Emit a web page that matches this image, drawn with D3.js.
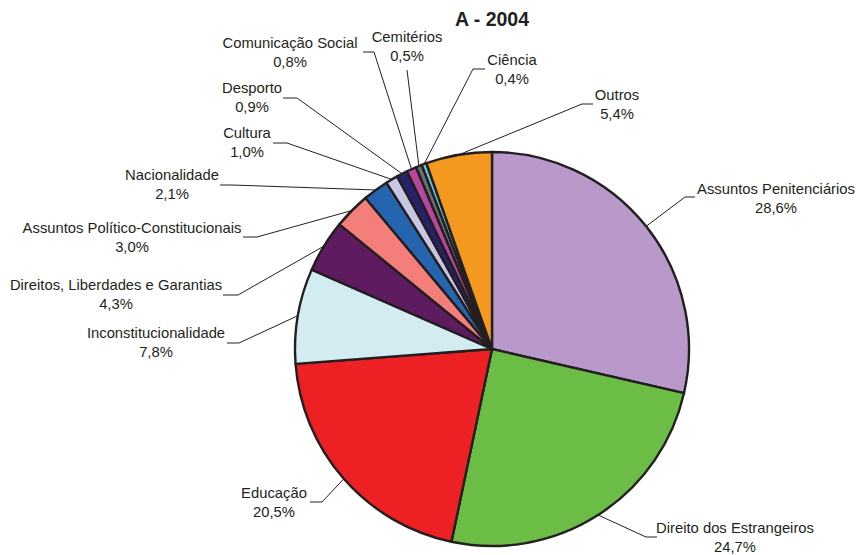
<!DOCTYPE html>
<html>
<head>
<meta charset="utf-8">
<script src="https://cdn.jsdelivr.net/npm/d3@7"></script>
<style>
  html, body { margin: 0; padding: 0; background: #fff; }
  svg { display: block; }
  text { font-family: "Liberation Sans", Arial, sans-serif; fill: #231f20; }
</style>
</head>
<body>
<svg id="chart" width="859" height="555"></svg>
<script>
// Share of subjects, 2004 (%), clockwise from 12 o'clock
const categories = [
  "Assuntos Penitenciários", "Direito dos Estrangeiros", "Educação",
  "Inconstitucionalidade", "Direitos, Liberdades e Garantias",
  "Assuntos Político-Constitucionais", "Nacionalidade", "Cultura",
  "Desporto", "Comunicação Social", "Cemitérios", "Ciência", "Outros"
];
const values = [28.6, 24.7, 20.5, 7.8, 4.3, 3.0, 2.1, 1.0, 0.9, 0.8, 0.5, 0.4, 5.4];
const valueLabels = ["28,6%", "24,7%", "20,5%", "7,8%", "4,3%", "3,0%", "2,1%",
                     "1,0%", "0,9%", "0,8%", "0,5%", "0,4%", "5,4%"];
const title = "A - 2004";

// Slice colours
const colors = ["#b899c9", "#6cbd45", "#ed2024", "#d3ecf1", "#5e1b5f", "#f47e7a",
                "#2565b0", "#c9c6e3", "#27216a", "#b6479c", "#6d6e71", "#5dc6d8", "#f4981f"];

// Label placement: text centre/baseline, then leader start and elbow
const labelLayout = [
  { text: [776, 194], lead: [[695, 197], [685, 197]] },
  { text: [735, 533], lead: [[657, 537], [646, 537]] },
  { text: [274, 498], lead: [[310, 502], [322, 502]] },
  { text: [156, 338], lead: [[227, 343], [239, 343]] },
  { text: [116, 290], lead: [[223, 295], [238, 295]] },
  { text: [132, 233], lead: [[243, 237], [257, 237]] },
  { text: [172, 180], lead: [[220, 185], [232, 185]] },
  { text: [247, 138], lead: [[273, 143], [287, 143]] },
  { text: [252, 93],  lead: [[283, 98],  [297, 98]] },
  { text: [290, 48],  lead: [[363, 52],  [374, 52]] },
  { text: [407, 42],  lead: [[407, 70],  [407, 70]] },
  { text: [512, 65],  lead: [[485, 69],  [473, 69]] },
  { text: [617, 100], lead: [[593, 104], [582, 104]] }
];

const svg = d3.select("#chart");
const cx = 492, cy = 349, r = 197;

svg.append("text")
  .attr("x", cx).attr("y", 26)
  .attr("text-anchor", "middle")
  .style("font-size", "19.5px").style("font-weight", "bold")
  .text(title);

const data = categories.map((c, i) => ({ name: c, value: values[i], label: valueLabels[i], color: colors[i] }));

const pie = d3.pie().value(d => d.value).sort(null);
const arcs = pie(data);
const arc = d3.arc().innerRadius(0).outerRadius(r);
const edge = d3.arc().innerRadius(r).outerRadius(r);

const g = svg.append("g").attr("transform", `translate(${cx},${cy})`);
g.selectAll("path.slice")
  .data(arcs)
  .join("path")
  .attr("class", "slice")
  .attr("d", arc)
  .attr("fill", d => d.data.color)
  .attr("stroke", "#231f20")
  .attr("stroke-width", 2.4)
  .attr("stroke-linejoin", "round");

// Leader lines from the arc midpoint to each label
const line = d3.line();
svg.selectAll("path.leader")
  .data(arcs)
  .join("path")
  .attr("class", "leader")
  .attr("fill", "none")
  .attr("stroke", "#231f20")
  .attr("stroke-width", 1)
  .attr("d", (d, i) => {
    const [mx, my] = edge.centroid(d);
    const L = labelLayout[i].lead;
    return line([L[0], L[1], [cx + mx, cy + my]]);
  });

// Two-line labels: category name and percentage
const labels = svg.selectAll("text.lbl")
  .data(arcs)
  .join("text")
  .attr("class", "lbl")
  .attr("text-anchor", "middle")
  .style("font-size", "14.8px");
labels.append("tspan")
  .attr("x", (d, i) => labelLayout[i].text[0])
  .attr("y", (d, i) => labelLayout[i].text[1])
  .text(d => d.data.name);
labels.append("tspan")
  .attr("x", (d, i) => labelLayout[i].text[0])
  .attr("y", (d, i) => labelLayout[i].text[1] + 19)
  .text(d => d.data.label);
</script>
</body>
</html>
